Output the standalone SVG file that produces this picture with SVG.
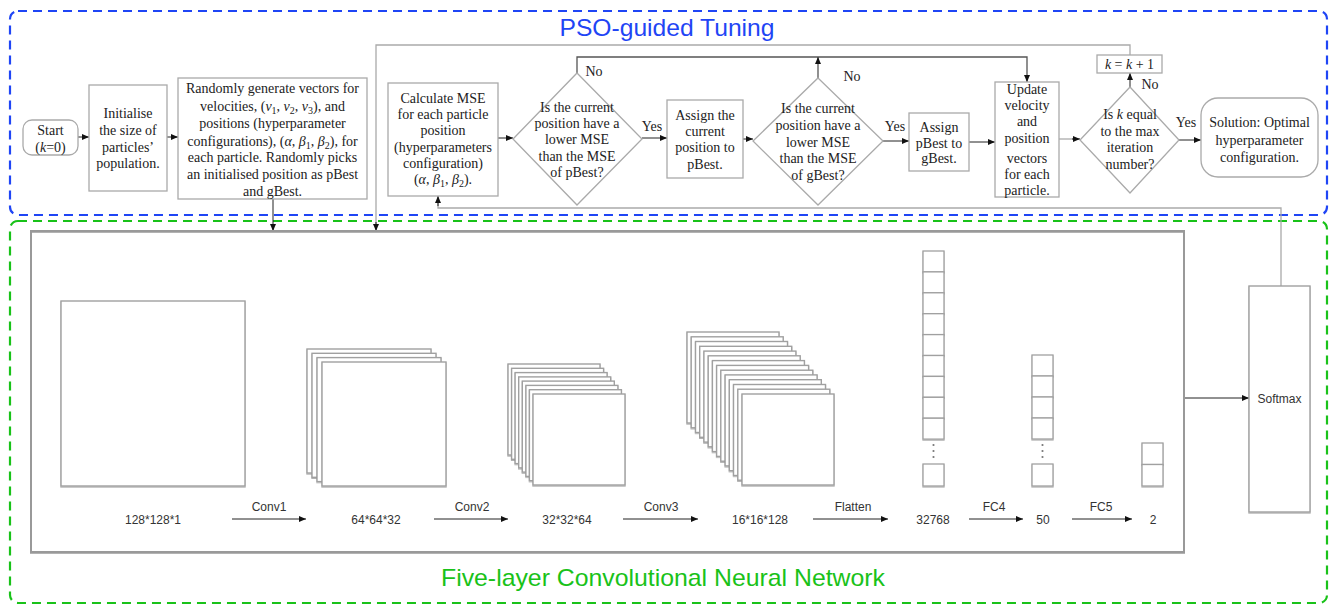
<svg xmlns="http://www.w3.org/2000/svg" width="1337" height="607" viewBox="0 0 1337 607">
  <defs>
    <marker id="arr" markerUnits="userSpaceOnUse" markerWidth="8" markerHeight="7" refX="7" refY="3" orient="auto">
      <path d="M0,0 L7,3 L0,6 z" fill="#111"/>
    </marker>
    <filter id="soft" x="-10%" y="-10%" width="120%" height="120%">
      <feDropShadow dx="0" dy="1" stdDeviation="0.7" flood-color="#000" flood-opacity="0.3"/>
    </filter>
    <style>
      .frame-blue { fill: none; stroke: #1f45f5; stroke-width: 2.2; stroke-dasharray: 9 6; }
      .frame-green { fill: none; stroke: #19c219; stroke-width: 2.2; stroke-dasharray: 9 6; }
      .title { font-family: "Liberation Sans", Arial, sans-serif; font-size: 24px; text-anchor: middle; }
      .box { fill: #fff; stroke: #aaa; stroke-width: 1.3; }
      .ft { font-family: "Liberation Serif", "Times New Roman", serif; font-size: 14px; fill: #222; text-anchor: middle; }
      .it { font-style: italic; }
      .sub { font-size: 10px; }
      .link { fill: none; stroke: #222; stroke-width: 1; }
      .loop { fill: none; stroke: #aaa; stroke-width: 1.3; }
      .loopdark { fill: none; stroke: #555; stroke-width: 1.3; }
      .cnnbox { fill: none; stroke: #999; stroke-width: 2; filter: url(#soft); }
      .sheet { fill: #fff; stroke: #a0a0a0; stroke-width: 1.4; filter: url(#soft); }
      .cell { fill: #fff; stroke: #a0a0a0; stroke-width: 1.3; filter: url(#soft); }
      .st { font-family: "Liberation Sans", Arial, sans-serif; font-size: 12px; fill: #333; text-anchor: middle; }
      .dot { fill: #777; }
    </style>
  </defs>

  <rect width="1337" height="607" fill="#fff"/>

  <!-- section frames -->
  <rect class="frame-blue" x="10" y="11" width="1317" height="204" rx="8"/>
  <text class="title" x="667" y="36" fill="#1f45f5" textLength="215" lengthAdjust="spacingAndGlyphs">PSO-guided Tuning</text>
  <rect class="frame-green" x="10" y="221" width="1317" height="382" rx="8"/>
  <text class="title" x="663" y="586" fill="#19c219" textLength="444" lengthAdjust="spacingAndGlyphs">Five-layer Convolutional Neural Network</text>

  <!-- connectors -->
  <g id="connectors">
    <line class="link" x1="78" y1="137" x2="89" y2="137" marker-end="url(#arr)"/>
    <line class="link" x1="167" y1="137" x2="178" y2="137" marker-end="url(#arr)"/>
    <line class="link" x1="273" y1="199" x2="273" y2="231" marker-end="url(#arr)"/>
    <polyline class="loop" points="1130,55 1130,45 376,45 376,224"/>
    <line class="link" x1="376" y1="222" x2="376" y2="231" marker-end="url(#arr)"/>
    <polyline class="loop" points="1281,286 1281,208 438,208 438,203"/>
    <line class="link" x1="438" y1="206" x2="438" y2="196" marker-end="url(#arr)"/>
    <line class="link" x1="498" y1="138" x2="513" y2="138" marker-end="url(#arr)"/>
    <line class="link" x1="642" y1="138" x2="667" y2="138" marker-end="url(#arr)"/>
    <polyline class="loopdark" points="577,73 577,57 1027,57 1027,82" marker-end="url(#arr)"/>
    <line class="link" x1="743" y1="139" x2="753" y2="139" marker-end="url(#arr)"/>
    <line class="loopdark" x1="818" y1="78" x2="818" y2="57" marker-end="url(#arr)"/>
    <line class="link" x1="883" y1="141" x2="909" y2="141" marker-end="url(#arr)"/>
    <line class="link" x1="969" y1="142" x2="995" y2="142" marker-end="url(#arr)"/>
    <line class="loop" x1="1059" y1="139" x2="1074" y2="139"/>
    <line class="link" x1="1072" y1="139" x2="1080" y2="139" marker-end="url(#arr)"/>
    <line class="link" x1="1130" y1="87" x2="1130" y2="73" marker-end="url(#arr)"/>
    <line class="link" x1="1179" y1="140" x2="1201" y2="140" marker-end="url(#arr)"/>
    <line class="link" x1="1184" y1="398" x2="1249" y2="398" marker-end="url(#arr)"/>
    <text class="ft" x="594" y="76">No</text>
    <text class="ft" x="652" y="131">Yes</text>
    <text class="ft" x="852" y="81">No</text>
    <text class="ft" x="895" y="131">Yes</text>
    <text class="ft" x="1150" y="89">No</text>
    <text class="ft" x="1186" y="127">Yes</text>
  </g>

  <!-- flowchart nodes -->
  <g id="start">
    <rect class="box" x="23" y="120" width="55" height="35" rx="9"/>
    <text class="ft" x="50.5" y="135">Start</text>
    <text class="ft" x="50.5" y="152">(<tspan class="it">k</tspan>=0)</text>
  </g>
  <g id="init-size">
    <rect class="box" x="89" y="85" width="78" height="106"/>
    <text class="ft" x="128" y="118">Initialise</text>
    <text class="ft" x="128" y="135">the size of</text>
    <text class="ft" x="128" y="152">particles’</text>
    <text class="ft" x="128" y="168">population.</text>
  </g>
  <g id="init-vectors">
    <rect class="box" x="178" y="78" width="189" height="121"/>
    <text class="ft" x="272.5" y="93">Randomly generate vectors for</text>
    <text class="ft" x="272.5" y="111">velocities, (<tspan class="it">v</tspan><tspan class="sub" baseline-shift="-3">1</tspan>, <tspan class="it">v</tspan><tspan class="sub" baseline-shift="-3">2</tspan>, <tspan class="it">v</tspan><tspan class="sub" baseline-shift="-3">3</tspan>), and</text>
    <text class="ft" x="272.5" y="128">positions (hyperparameter</text>
    <text class="ft" x="272.5" y="146">configurations), (<tspan class="it">α</tspan>, <tspan class="it">β</tspan><tspan class="sub" baseline-shift="-3">1</tspan>, <tspan class="it">β</tspan><tspan class="sub" baseline-shift="-3">2</tspan>), for</text>
    <text class="ft" x="272.5" y="162">each particle. Randomly picks</text>
    <text class="ft" x="272.5" y="179">an initialised position as pBest</text>
    <text class="ft" x="272.5" y="196">and gBest.</text>
  </g>
  <g id="calc-mse">
    <rect class="box" x="388" y="83" width="110" height="113"/>
    <text class="ft" x="443" y="103">Calculate MSE</text>
    <text class="ft" x="443" y="119">for each particle</text>
    <text class="ft" x="443" y="135">position</text>
    <text class="ft" x="443" y="152">(hyperparameters</text>
    <text class="ft" x="443" y="168">configuration)</text>
    <text class="ft" x="443" y="184">(<tspan class="it">α</tspan>, <tspan class="it">β</tspan><tspan class="sub" baseline-shift="-3">1</tspan>, <tspan class="it">β</tspan><tspan class="sub" baseline-shift="-3">2</tspan>).</text>
  </g>
  <g id="check-pbest">
    <polygon class="box" points="577,73 642,139 577,205 513,139"/>
    <text class="ft" x="577" y="112">Is the current</text>
    <text class="ft" x="577" y="128">position have a</text>
    <text class="ft" x="577" y="144">lower MSE</text>
    <text class="ft" x="577" y="161">than the MSE</text>
    <text class="ft" x="577" y="177">of pBest?</text>
  </g>
  <g id="assign-pbest">
    <rect class="box" x="667" y="100" width="76" height="78"/>
    <text class="ft" x="705" y="120">Assign the</text>
    <text class="ft" x="705" y="136">current</text>
    <text class="ft" x="705" y="152">position to</text>
    <text class="ft" x="705" y="169">pBest.</text>
  </g>
  <g id="check-gbest">
    <polygon class="box" points="818,78 883,141 818,205 753,141"/>
    <text class="ft" x="818" y="113">Is the current</text>
    <text class="ft" x="818" y="130">position have a</text>
    <text class="ft" x="818" y="147">lower MSE</text>
    <text class="ft" x="818" y="163">than the MSE</text>
    <text class="ft" x="818" y="180">of gBest?</text>
  </g>
  <g id="assign-gbest">
    <rect class="box" x="909" y="113" width="60" height="58"/>
    <text class="ft" x="939" y="132">Assign</text>
    <text class="ft" x="939" y="148">pBest to</text>
    <text class="ft" x="939" y="163">gBest.</text>
  </g>
  <g id="update">
    <rect class="box" x="995" y="82" width="64" height="115"/>
    <text class="ft" x="1027" y="94">Update</text>
    <text class="ft" x="1027" y="110">velocity</text>
    <text class="ft" x="1027" y="126">and</text>
    <text class="ft" x="1027" y="143">position</text>
    <text class="ft" x="1027" y="163">vectors</text>
    <text class="ft" x="1027" y="179">for each</text>
    <text class="ft" x="1027" y="195">particle.</text>
  </g>
  <g id="increment">
    <rect class="box" x="1097" y="55" width="65" height="18"/>
    <text class="ft" x="1129.5" y="69"><tspan class="it">k</tspan> = <tspan class="it">k</tspan> + 1</text>
  </g>
  <g id="check-iter">
    <polygon class="box" points="1130,87 1179,140 1130,193 1080,140"/>
    <text class="ft" x="1130" y="119">Is <tspan class="it">k</tspan> equal</text>
    <text class="ft" x="1130" y="136">to the max</text>
    <text class="ft" x="1130" y="152">iteration</text>
    <text class="ft" x="1130" y="169">number?</text>
  </g>
  <g id="solution">
    <rect class="box" x="1201" y="98" width="117" height="79" rx="17"/>
    <text class="ft" x="1259.5" y="127">Solution: Optimal</text>
    <text class="ft" x="1259.5" y="145">hyperparameter</text>
    <text class="ft" x="1259.5" y="162">configuration.</text>
  </g>

  <!-- CNN -->
  <g id="cnn">
    <rect class="cnnbox" x="31" y="231" width="1153" height="321"/>

    <g id="input-layer">
      <rect class="sheet" x="61" y="301" width="184" height="185"/>
      <text class="st" x="153" y="524">128*128*1</text>
    </g>

    <g id="conv1-out">
      <rect class="sheet" x="307" y="349" width="124" height="124"/>
      <rect class="sheet" x="312" y="353.3" width="124" height="124"/>
      <rect class="sheet" x="317" y="357.6" width="124" height="124"/>
      <rect class="sheet" x="322" y="362" width="124" height="124"/>
      <text class="st" x="376" y="524">64*64*32</text>
    </g>

    <g id="conv2-out">
      <rect class="sheet" x="508" y="364" width="92" height="91"/>
      <rect class="sheet" x="511.6" y="368.3" width="92" height="91"/>
      <rect class="sheet" x="515.1" y="372.6" width="92" height="91"/>
      <rect class="sheet" x="518.7" y="376.9" width="92" height="91"/>
      <rect class="sheet" x="522.3" y="381.1" width="92" height="91"/>
      <rect class="sheet" x="525.9" y="385.4" width="92" height="91"/>
      <rect class="sheet" x="529.4" y="389.7" width="92" height="91"/>
      <rect class="sheet" x="533" y="394" width="92" height="91"/>
      <text class="st" x="567" y="524">32*32*64</text>
    </g>

    <g id="conv3-out">
      <rect class="sheet" x="687" y="332" width="92" height="91"/>
      <rect class="sheet" x="691.2" y="336.8" width="92" height="91"/>
      <rect class="sheet" x="695.5" y="341.5" width="92" height="91"/>
      <rect class="sheet" x="699.7" y="346.3" width="92" height="91"/>
      <rect class="sheet" x="703.9" y="351.1" width="92" height="91"/>
      <rect class="sheet" x="708.2" y="355.8" width="92" height="91"/>
      <rect class="sheet" x="712.4" y="360.6" width="92" height="91"/>
      <rect class="sheet" x="716.6" y="365.4" width="92" height="91"/>
      <rect class="sheet" x="720.8" y="370.2" width="92" height="91"/>
      <rect class="sheet" x="725.1" y="374.9" width="92" height="91"/>
      <rect class="sheet" x="729.3" y="379.7" width="92" height="91"/>
      <rect class="sheet" x="733.5" y="384.5" width="92" height="91"/>
      <rect class="sheet" x="737.8" y="389.2" width="92" height="91"/>
      <rect class="sheet" x="742" y="394" width="92" height="91"/>
      <text class="st" x="760" y="524">16*16*128</text>
    </g>

    <g id="flatten-out">
      <rect class="cell" x="923" y="251" width="21" height="20.9"/>
      <rect class="cell" x="923" y="271.9" width="21" height="20.9"/>
      <rect class="cell" x="923" y="292.8" width="21" height="20.9"/>
      <rect class="cell" x="923" y="313.7" width="21" height="20.9"/>
      <rect class="cell" x="923" y="334.6" width="21" height="20.9"/>
      <rect class="cell" x="923" y="355.5" width="21" height="20.9"/>
      <rect class="cell" x="923" y="376.4" width="21" height="20.9"/>
      <rect class="cell" x="923" y="397.3" width="21" height="20.9"/>
      <rect class="cell" x="923" y="418.2" width="21" height="20.9"/>
      <circle class="dot" cx="933.5" cy="445" r="1.1"/>
      <circle class="dot" cx="933.5" cy="451" r="1.1"/>
      <circle class="dot" cx="933.5" cy="457" r="1.1"/>
      <rect class="cell" x="923" y="464" width="21" height="22"/>
      <text class="st" x="933" y="524">32768</text>
    </g>

    <g id="fc4-out">
      <rect class="cell" x="1032" y="355" width="21" height="21"/>
      <rect class="cell" x="1032" y="376" width="21" height="21"/>
      <rect class="cell" x="1032" y="397" width="21" height="21"/>
      <rect class="cell" x="1032" y="418" width="21" height="21"/>
      <circle class="dot" cx="1042.5" cy="445" r="1.1"/>
      <circle class="dot" cx="1042.5" cy="451" r="1.1"/>
      <circle class="dot" cx="1042.5" cy="457" r="1.1"/>
      <rect class="cell" x="1032" y="464" width="21" height="22"/>
      <text class="st" x="1043" y="524">50</text>
    </g>

    <g id="fc5-out">
      <rect class="cell" x="1142" y="443" width="21" height="21.5"/>
      <rect class="cell" x="1142" y="464.5" width="21" height="21.5"/>
      <text class="st" x="1153" y="524">2</text>
    </g>

    <g id="layer-arrows">
      <line class="link" x1="232" y1="519" x2="306" y2="519" marker-end="url(#arr)"/>
      <text class="st" x="269" y="511">Conv1</text>
      <line class="link" x1="434" y1="519" x2="508" y2="519" marker-end="url(#arr)"/>
      <text class="st" x="472" y="511">Conv2</text>
      <line class="link" x1="623" y1="519" x2="698" y2="519" marker-end="url(#arr)"/>
      <text class="st" x="661" y="511">Conv3</text>
      <line class="link" x1="813" y1="519" x2="888" y2="519" marker-end="url(#arr)"/>
      <text class="st" x="853" y="511">Flatten</text>
      <line class="link" x1="969" y1="519" x2="1023" y2="519" marker-end="url(#arr)"/>
      <text class="st" x="994" y="511">FC4</text>
      <line class="link" x1="1072" y1="519" x2="1132" y2="519" marker-end="url(#arr)"/>
      <text class="st" x="1101" y="511">FC5</text>
    </g>
  </g>

  <g id="softmax">
    <rect class="sheet" x="1249" y="286" width="61" height="226"/>
    <text class="st" x="1279.5" y="403">Softmax</text>
  </g>
</svg>
